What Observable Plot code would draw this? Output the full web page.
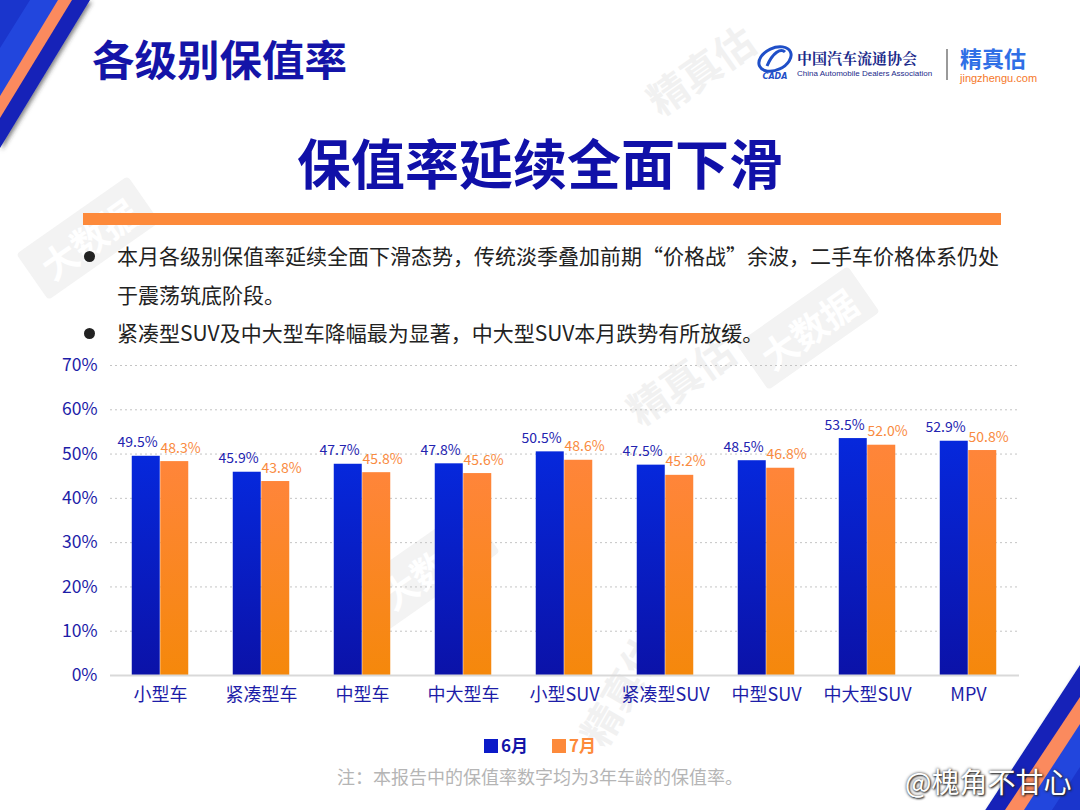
<!DOCTYPE html>
<html><head><meta charset="utf-8">
<script src="https://cdn.jsdelivr.net/npm/d3@7"></script>
<script src="https://cdn.jsdelivr.net/npm/@observablehq/plot@0.6"></script>
<style>
body{margin:0;background:#fff;}
#page{position:relative;width:1080px;height:810px;background:#fff;overflow:hidden;font-family:"Noto Sans CJK SC","Noto Sans",sans-serif;}
.abs{position:absolute;white-space:nowrap;}
#title{left:92px;top:30px;font-size:42.5px;font-weight:700;color:#1414a8;line-height:56px;}
#headline{left:0;width:1080px;text-align:center;top:128px;font-size:54px;font-weight:700;color:#1010a8;line-height:68px;}
#obar{left:83px;top:213px;width:918px;height:12px;background:#fd8a3b;}
.bul{left:117px;font-size:21px;color:#222;line-height:39px;}
.dot{position:absolute;left:84px;width:11px;height:11px;border-radius:50%;background:#222;}
#chart{position:absolute;left:0;top:350px;}
#legend{left:0;width:1080px;top:733px;text-align:center;font-size:17px;font-weight:700;line-height:24px;}
#legend span.sw{display:inline-block;width:14px;height:14px;vertical-align:-1px;margin-right:3px;}
#note{left:0;width:1080px;text-align:center;top:763px;font-size:18px;color:#b5b5b5;line-height:26px;}
#weibo{left:905px;top:762px;font-size:28px;color:#fff;line-height:38px;text-shadow:0 0 3px #333,1px 1px 2px #222;}
.wm{position:absolute;color:#f1f1f1;font-weight:700;transform-origin:center;white-space:nowrap;}
.wmb{position:absolute;color:#fff;font-weight:700;background:#f3f3f3;padding:2px 14px;border-radius:4px;transform-origin:center;white-space:nowrap;}
</style>
</head><body>
<div id="page">
<svg width="0" height="0" style="position:absolute">
  <defs>
    <linearGradient id="gBlue" x1="0" y1="0" x2="0" y2="1">
      <stop offset="0" stop-color="#0628dc"/>
      <stop offset="1" stop-color="#0b12a8"/>
    </linearGradient>
    <linearGradient id="gOrange" x1="0" y1="0" x2="0" y2="1">
      <stop offset="0" stop-color="#ff853a"/>
      <stop offset="1" stop-color="#f5880b"/>
    </linearGradient>
    <filter id="sh" x="-20%" y="-20%" width="140%" height="140%">
      <feDropShadow dx="2" dy="2" stdDeviation="2" flood-color="#333" flood-opacity="0.6"/>
    </filter>
  </defs>
</svg>
<!-- watermarks (decorative) -->
<div class="wm" style="left:640px;top:40px;font-size:40px;transform:rotate(-35deg);">精真估</div>
<div class="wm" style="left:620px;top:350px;font-size:40px;transform:rotate(-35deg);">精真估</div>
<div class="wm" style="left:560px;top:660px;font-size:40px;transform:rotate(-60deg);">精真估</div>
<div class="wmb" style="left:740px;top:300px;font-size:36px;transform:rotate(-35deg);">大数据</div>
<div class="wmb" style="left:20px;top:210px;font-size:36px;transform:rotate(-35deg);">大数据</div>
<div class="wmb" style="left:360px;top:540px;font-size:36px;transform:rotate(-35deg);">大数据</div>

<!-- decorative stripes -->
<svg class="abs" style="left:0;top:0" width="1080" height="810">
  <g filter="url(#sh)">
    <polygon points="0,0 90,0 0,148" fill="#1222b8"/>
  </g>
  <polygon points="0,0 72,0 0,118" fill="#fb8a5e"/>
  <polygon points="0,0 58,0 0,96" fill="#2246dd"/>
  <polygon points="0,0 30,0 0,48" fill="#1a35cc"/>
  <g filter="url(#sh)">
    <polygon points="984,812 1082,662 1082,812" fill="#1222b8"/>
  </g>
  <polygon points="1005,810 1080,697 1080,810" fill="#fb8a5e"/>
  <polygon points="1024,810 1080,724 1080,810" fill="#2246dd"/>
  <polygon points="1052,810 1080,767 1080,810" fill="#1a35cc"/>
</svg>

<div id="title" class="abs">各级别保值率</div>

<!-- logos -->
<svg class="abs" style="left:754px;top:44px" width="42" height="38">
  <ellipse cx="21" cy="15" rx="17" ry="11" fill="none" stroke="#1f4fc8" stroke-width="3" transform="rotate(-25 21 15)"/>
  <path d="M13 22 C19 8, 27 4, 31 8" fill="none" stroke="#1f4fc8" stroke-width="3"/>
  <text x="21" y="35" text-anchor="middle" font-size="8" font-style="italic" font-weight="700" fill="#1f4fc8" font-family="DejaVu Sans">CADA</text>
</svg>
<div class="abs" style="left:797px;top:48px;font-size:15px;color:#1b2a8a;font-weight:700;font-family:'Noto Serif CJK SC','Noto Sans CJK SC';line-height:20px;">中国汽车流通协会</div>
<div class="abs" style="left:797px;top:68px;font-size:8px;color:#1b2a8a;line-height:11px;font-family:'Liberation Sans';">China Automobile Dealers Association</div>
<div class="abs" style="left:946px;top:49px;width:2px;height:31px;background:#9a9a9a;"></div>
<div class="abs" style="left:960px;top:43px;font-size:22px;color:#2f6fe6;font-weight:700;line-height:28px;">精真估</div>
<div class="abs" style="left:960px;top:72px;font-size:11px;color:#f5782a;line-height:13px;font-family:'Liberation Sans';">jingzhengu.com</div>

<div id="headline" class="abs">保值率延续全面下滑</div>
<div id="obar" class="abs"></div>

<div class="dot" style="top:251px;"></div>
<div class="abs bul" style="top:236px;">本月各级别保值率延续全面下滑态势，传统淡季叠加前期“价格战”余波，二手车价格体系仍处</div>
<div class="abs bul" style="top:275px;">于震荡筑底阶段。</div>
<div class="dot" style="top:328px;"></div>
<div class="abs bul" style="top:313px;">紧凑型SUV及中大型车降幅最为显著，中大型SUV本月跌势有所放缓。</div>

<div id="chart"></div>

<div id="legend" class="abs"><span class="sw" style="background:#0b1ac8"></span><span style="color:#1414a8">6月</span><span style="display:inline-block;width:24px"></span><span class="sw" style="background:#fd8a3b"></span><span style="color:#fd8a3b">7月</span></div>
<div id="note" class="abs">注：本报告中的保值率数字均为3年车龄的保值率。</div>
<div id="weibo" class="abs">@槐角不甘心</div>
</div>

<script>
const categories = ["小型车","紧凑型车","中型车","中大型车","小型SUV","紧凑型SUV","中型SUV","中大型SUV","MPV"];
const june = [49.5,45.9,47.7,47.8,50.5,47.5,48.5,53.5,52.9];
const july = [48.3,43.8,45.8,45.6,48.6,45.2,46.8,52.0,50.8];
const yTicks = [0,10,20,30,40,50,60,70];

const juneRows = categories.map((c,i)=>({category:c, value:june[i]}));
const julyRows = categories.map((c,i)=>({category:c, value:july[i]}));
const fmt = d => d.value.toFixed(1) + "%";
const axisColor = "#1d1da8";

const chart = Plot.plot({
  width: 1080,
  height: 370,
  marginLeft: 110,
  marginRight: 61,
  marginTop: 15,
  marginBottom: 45,
  style: {fontFamily: "'Noto Sans CJK SC','Noto Sans',sans-serif", background: "transparent"},
  x: {type: "band", domain: categories, paddingInner: 0.718, paddingOuter: 0.359},
  y: {domain: [0, 70]},
  marks: [
    Plot.ruleY(yTicks.slice(1), {stroke: "#c4c4c4", strokeDasharray: "2,3", strokeWidth: 1}),
    Plot.barY(juneRows, {x: "category", y: "value", fill: "url(#gBlue)", dx: -14.25}),
    Plot.barY(julyRows, {x: "category", y: "value", fill: "url(#gOrange)", dx: 14.25}),
    Plot.ruleY([0], {stroke: "#d9d9d9", strokeWidth: 2}),
    Plot.text(juneRows, {x: "category", y: "value", text: fmt, dx: -23, dy: -9, lineAnchor: "bottom", fill: "#2323b0", fontSize: 14}),
    Plot.text(julyRows, {x: "category", y: "value", text: fmt, dx: 20, dy: -9, lineAnchor: "bottom", fill: "#f98b3f", fontSize: 14}),
    Plot.axisY({ticks: yTicks, tickFormat: d => d + "%", tickSize: 0, tickPadding: 13, fontSize: 17.5, color: axisColor, label: null}),
    Plot.axisX({tickSize: 0, tickPadding: 13, fontSize: 18, color: axisColor, label: null})
  ]
});
document.getElementById("chart").appendChild(chart);
</script>
</body></html>
